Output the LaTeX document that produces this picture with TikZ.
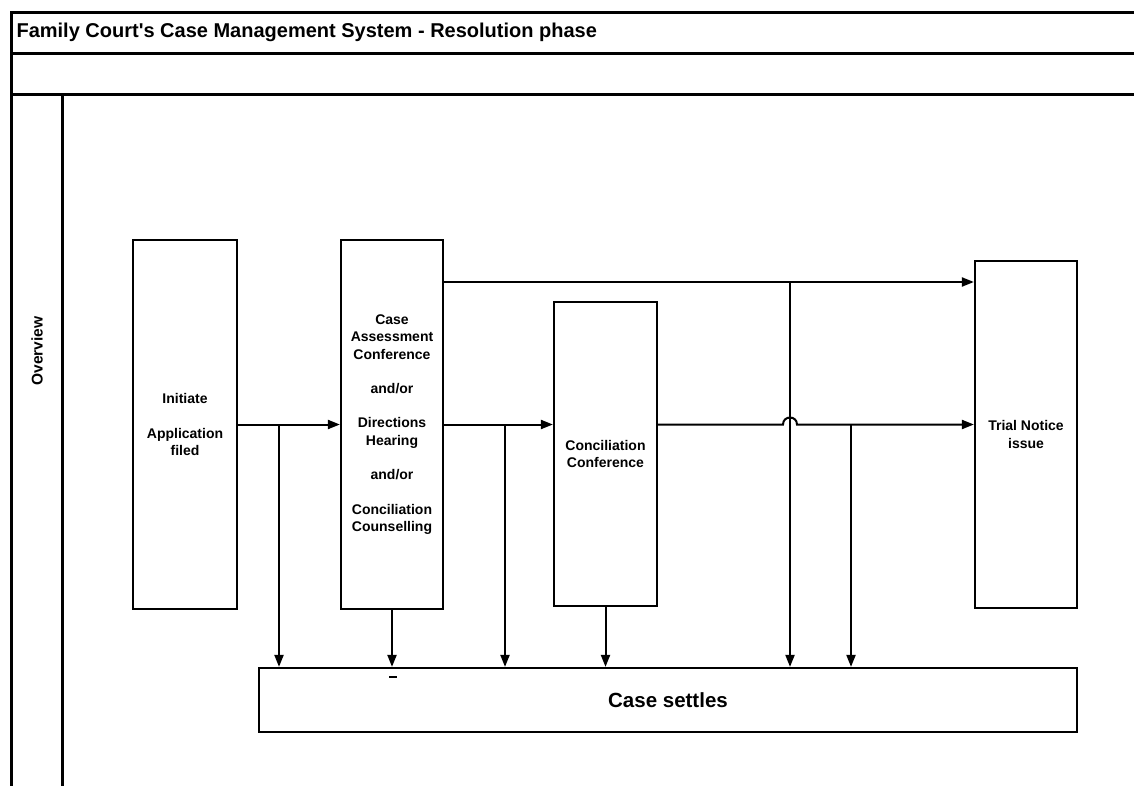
\documentclass[tikz,border=0pt]{standalone}
\usepackage{fontspec}
\setmainfont{Liberation Sans}
\usetikzlibrary{arrows.meta}
\tikzset{
  frame/.style={line width=3pt},
  box/.style={draw, line width=2.2pt, rectangle, inner sep=0pt, align=center,
    font=\fontsize{14}{17.4}\selectfont\bfseries},
  conn/.style={line width=2pt},
  arr/.style={conn, -{Triangle[length=12pt,width=9pt]}},
}
\begin{document}
\begin{tikzpicture}[x=1pt,y=-1pt]
\useasboundingbox (0,0) rectangle (1134,786);
% frame
\draw[frame] (11,786) -- (11,13) -- (1134,13);
\draw[frame] (11,54) -- (1134,54);
\draw[frame] (11,95) -- (1134,95);
\draw[frame] (62,95) -- (62,786);
\node[anchor=base west, font=\fontsize{20}{23}\selectfont\bfseries] (title) at (13,38) {Family Court\textquotesingle s Case Management System - Resolution phase};
\node[rotate=90, font=\fontsize{15.5}{18}\selectfont\bfseries] (lane) at (37,351) {Overview};
% boxes
\node[box, minimum width=104pt, minimum height=369pt] (init) at (185,424.5) {Initiate\\[17pt]Application\\filed};
\node[box, minimum width=102pt, minimum height=369pt] (cac) at (392,424.5) {Case\\Assessment\\Conference\\[17pt]and/or\\[17pt]Directions\\Hearing\\[17pt]and/or\\[17pt]Conciliation\\Counselling};
\node[box, minimum width=103pt, minimum height=304pt] (cc) at (605.5,454) {Conciliation\\Conference};
\node[box, minimum width=102pt, minimum height=347pt] (trial) at (1026,434.5) {Trial Notice\\issue};
\node[box, minimum width=818pt, minimum height=64pt, font=\fontsize{20.5}{23}\selectfont\bfseries] (settle) at (668,700) {Case settles};
% connectors
\draw[arr] (init.east) -- (cac.west);
\coordinate (b1) at (279,424.5);
\draw[arr] (b1) -- (b1 |- settle.north);
\draw[arr] (cac.south) -- (cac.south |- settle.north);
\coordinate (m1) at (cac.east);
\draw[arr] (m1) -- (m1 -| cc.west);
\coordinate (b2) at (505,424.5);
\draw[arr] (b2) -- (b2 |- settle.north);
\coordinate (t1) at (443,282);
\draw[arr] (t1) -- (t1 -| trial.west);
\coordinate (b3) at (790,282);
\draw[arr] (b3) -- (b3 |- settle.north);
\draw[arr] (cc.south) -- (cc.south |- settle.north);
\coordinate (m2) at (657,424.5);
\coordinate (h1) at (783,424.5);
\coordinate (h2) at (797,424.5);
\draw[arr] (m2) -- (h1) .. controls (783,415.2) and (797,415.2) .. (h2) -- (h2 -| trial.west);
\coordinate (b4) at (851,424.5);
\draw[arr] (b4) -- (b4 |- settle.north);
\draw[line width=2.5pt] (389,677) -- (397,677);
\end{tikzpicture}
\end{document}
